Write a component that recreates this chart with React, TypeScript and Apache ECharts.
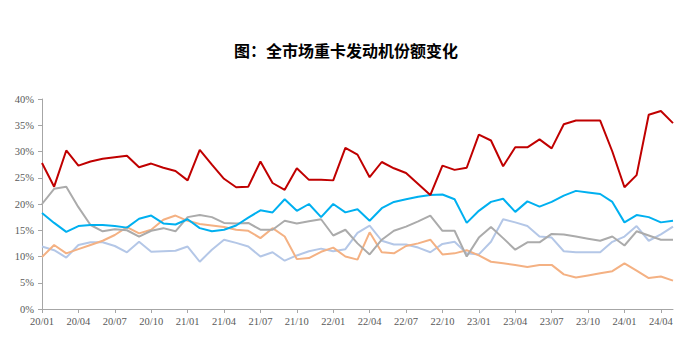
import React, { useEffect, useRef } from "react";
import * as echarts from "echarts";

const title = "图：全市场重卡发动机份额变化";

const years = ["20", "21", "22", "23", "24"];
const months = ["01", "02", "03", "04", "05", "06", "07", "08", "09", "10", "11", "12"];
const categories: string[] = [];
for (const y of years) {
  for (const m of months) {
    if (y === "24" && Number(m) > 5) break;
    categories.push(`${y}/${m}`);
  }
}

const redSeries = [
  27.8, 23.3, 30.2, 27.3, 28.1, 28.6, 28.9, 29.2, 27.0, 27.7, 26.9, 26.3,
  24.5, 30.3, 27.5, 24.8, 23.2, 23.3, 28.1, 24.0, 22.7, 26.8, 24.6, 24.6,
  24.5, 30.7, 29.4, 25.1, 28.0, 26.8, 25.9, 23.8, 21.7, 27.3, 26.5, 26.9,
  33.2, 32.1, 27.2, 30.8, 30.8, 32.3, 30.6, 35.2, 35.9, 35.9, 35.9, 30.0,
  23.2, 25.5, 37.0, 37.7, 35.4,
];

const blueSeries = [
  18.3, 16.4, 14.7, 15.8, 16.0, 16.0, 15.8, 15.5, 17.2, 17.8, 16.3, 16.1,
  17.1, 15.4, 14.8, 15.1, 15.9, 17.4, 18.8, 18.4, 20.9, 18.7, 20.0, 17.5,
  20.0, 18.4, 19.0, 16.8, 19.2, 20.4, 20.9, 21.4, 21.7, 21.8, 20.9, 16.4,
  18.7, 20.4, 21.0, 18.5, 20.5, 19.5, 20.4, 21.6, 22.5, 22.2, 21.9, 20.4,
  16.5, 17.9, 17.5, 16.5, 16.8,
];

const graySeries = [
  20.0, 22.9, 23.3, 19.4, 16.0, 14.8, 15.2, 15.0, 13.8, 14.9, 15.4, 14.8,
  17.5, 17.9, 17.5, 16.4, 16.3, 16.4, 15.1, 15.1, 16.8, 16.3, 16.7, 17.1,
  14.0, 15.1, 12.5, 10.4, 13.2, 14.9, 15.7, 16.7, 17.8, 14.9, 14.9, 10.0,
  13.6, 15.6, 13.5, 11.3, 12.7, 12.7, 14.3, 14.2, 13.8, 13.4, 13.0, 13.8,
  12.1, 14.8, 14.0, 13.2, 13.2,
];

const orangeSeries = [
  9.9, 12.2, 10.6, 11.4, 12.2, 13.0, 14.1, 15.6, 14.4, 15.1, 17.0, 17.8,
  16.8, 16.2, 15.9, 15.6, 15.1, 14.9, 13.5, 15.4, 13.8, 9.5, 9.7, 10.9,
  11.7, 10.0, 9.4, 14.6, 10.8, 10.6, 12.0, 12.5, 13.2, 10.4, 10.6, 11.2,
  10.2, 9.0, 8.7, 8.4, 8.0, 8.4, 8.4, 6.6, 6.0, 6.4, 6.8, 7.2,
  8.7, 7.3, 5.9, 6.2, 5.4,
];

const lavenderSeries = [
  11.9, 11.2, 9.8, 12.2, 12.7, 12.7, 12.0, 10.8, 12.8, 10.9, 11.0, 11.1,
  11.9, 9.0, 11.3, 13.2, 12.6, 11.9, 10.0, 10.8, 9.2, 10.2, 11.0, 11.5,
  11.0, 11.4, 14.5, 15.9, 13.0, 12.3, 12.3, 11.7, 10.8, 12.4, 12.8, 10.6,
  10.4, 12.8, 17.1, 16.5, 15.8, 13.8, 13.6, 11.0, 10.8, 10.8, 10.8, 12.8,
  13.8, 15.8, 13.0, 14.2, 15.7,
];

const seriesList = [
  { name: "A", data: lavenderSeries, color: "#B4C7E7" },
  { name: "B", data: orangeSeries, color: "#F4B183" },
  { name: "C", data: graySeries, color: "#ABABAB" },
  { name: "D", data: blueSeries, color: "#00B0F0" },
  { name: "E", data: redSeries, color: "#C00000" },
];

export default function App() {
  const ref = useRef<HTMLDivElement>(null);
  useEffect(() => {
    if (!ref.current) return;
    const chart = echarts.init(ref.current, null, { renderer: "svg" });
    const axisColor = "#A6A6A6";
    const labelFont = "'Liberation Serif', 'Times New Roman', serif";
    chart.setOption({
      animation: false,
      backgroundColor: "#ffffff",
      title: {
        text: title,
        left: 341,
        textAlign: "center",
        top: 37,
        textStyle: {
          fontFamily: "'Noto Sans CJK SC', sans-serif",
          fontSize: 16,
          fontWeight: "bold",
          color: "#000000",
        },
      },
      grid: { left: 42, right: 7, top: 99, bottom: 47 },
      xAxis: {
        type: "category",
        data: categories,
        boundaryGap: false,
        axisLine: { lineStyle: { color: axisColor, width: 1 } },
        axisTick: { show: true, interval: 2, length: 4, lineStyle: { color: axisColor } },
        axisLabel: {
          interval: 2,
          margin: 7,
          fontFamily: labelFont,
          fontSize: 10.5,
          color: "#595959",
        },
        splitLine: { show: false },
      },
      yAxis: {
        type: "value",
        min: 0,
        max: 40,
        interval: 5,
        axisLine: { show: true, lineStyle: { color: axisColor, width: 1 } },
        axisTick: { show: true, length: 4, lineStyle: { color: axisColor } },
        axisLabel: {
          formatter: "{value}%",
          margin: 8,
          fontFamily: labelFont,
          fontSize: 10.5,
          color: "#595959",
        },
        splitLine: { show: false },
      },
      series: seriesList.map((s) => ({
        name: s.name,
        type: "line",
        data: s.data,
        symbol: "none",
        lineStyle: { color: s.color, width: 2 },
        itemStyle: { color: s.color },
      })),
    });
    return () => chart.dispose();
  }, []);
  return (
    <div
      ref={ref}
      style={{ position: "fixed", left: 0, top: 0, width: 680, height: 356 }}
    />
  );
}
